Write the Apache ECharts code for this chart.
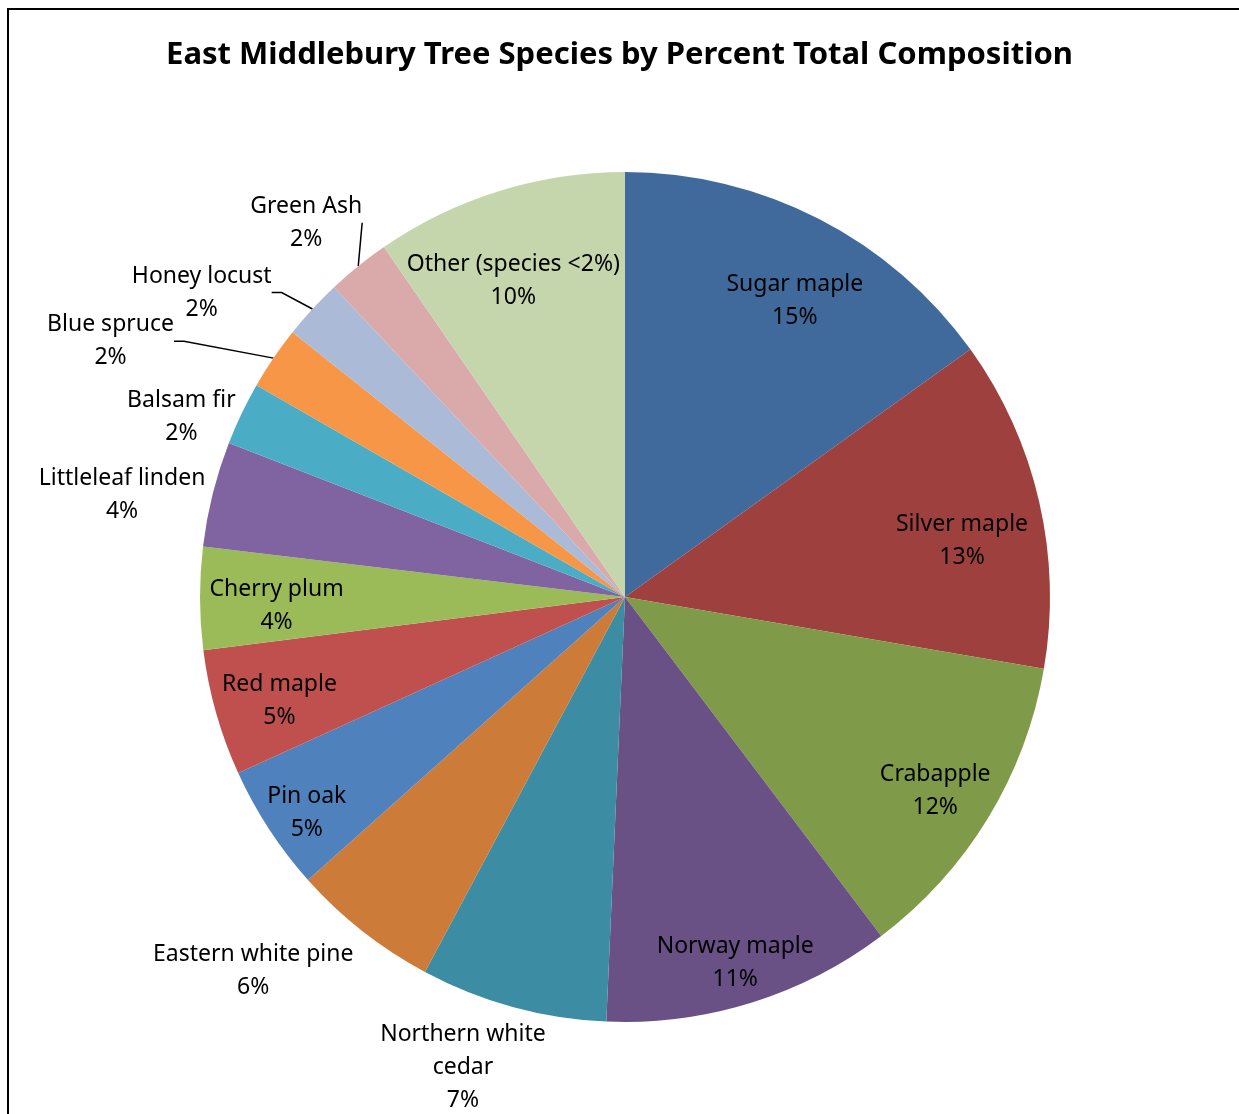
<!DOCTYPE html>
<html><head><meta charset="utf-8">
<script src="https://cdn.jsdelivr.net/npm/echarts@6/dist/echarts.min.js"></script>
<style>html,body{margin:0;padding:0;background:#fff}#c{width:1239px;height:1114px}</style>
</head><body><div id="c"></div>
<script>
const species = ['Sugar maple','Silver maple','Crabapple','Norway maple','Northern white\ncedar','Eastern white pine','Pin oak','Red maple','Cherry plum','Littleleaf linden','Balsam fir','Blue spruce','Honey locust','Green Ash','Other (species <2%)'];
const shares = [15.1,12.6,12.0,11.0,7.1,5.6,4.8,4.8,3.9,4.0,2.4,2.4,2.3,2.4,9.6];
const colors = ['#416A9C','#9E413E','#7F9A48','#695185','#3C8DA3','#CC7B38','#4F81BD','#C0504D','#9BBB59','#8064A2','#4BACC6','#F79646','#AABAD7','#D9AAA9','#C6D6AC'];
const leaderLabels = ['Blue spruce','Honey locust','Green Ash'];
// label placement: [angle in degrees clockwise from top, distance as multiple of pie radius]
const labelPlacement = {
  'Sugar maple':[29.6,0.809],
  'Silver maple':[80.1,0.805],
  'Crabapple':[121.6,0.857],
  'Norway maple':[163.1,0.892],
  'Pin oak':[236.2,0.901],
  'Red maple':[253.7,0.847],
  'Cherry plum':[269.0,0.820],
  'Other (species <2%)':[340.7,0.795],
  'Green Ash':[319.8,1.162],
  'Honey locust':[306,1.231],
  'Blue spruce':[296.7,1.355],
  'Balsam fir':[292.4,1.129],
  'Littleleaf linden':[281.8,1.209],
  'Eastern white pine':[225.1,1.235],
  'Northern white\ncedar':[199.1,1.165]
};

const FONT = 'Noto Sans';
const CX = 625, CY = 597, R = 425;
const txt = {fontFamily:FONT, fontSize:23, color:'#000', lineHeight:33, align:'center'};
const fmt = p => {
  const lines = p.name.split('\n').concat([Math.round(p.percent) + '%']);
  return lines.map(l => '{t|' + l + '}').join('\n');
};

const mainData = species.map((n,i)=>({
  name:n, value:shares[i],
  itemStyle:{color:colors[i]},
  labelLine:{show: leaderLabels.includes(n)}
}));

const chart = echarts.init(document.getElementById('c'), null, {renderer:'canvas'});
chart.setOption({
  animation:false,
  backgroundColor:'#fff',
  title:{text:'East Middlebury Tree Species by Percent Total Composition', left:'center', top:35,
    textStyle:{fontFamily:FONT, fontWeight:'bold', fontSize:31, color:'#000'}},
  graphic:[{type:'rect', shape:{x:8,y:9,width:1400,height:1400}, style:{fill:'none', stroke:'#000', lineWidth:2}, silent:true}],
  series:[
    {type:'pie', center:[CX,CY], radius:[0,R], startAngle:90, clockwise:true, silent:true,
     avoidLabelOverlap:false,
     data:mainData,
     itemStyle:{borderWidth:0},
     label:{position:'outside', formatter:fmt, rich:{t:txt}, padding:[6,0,0,0]},
     labelLine:{length:12, length2:10, lineStyle:{color:'#000', width:1.5}},
     labelLayout: function(params){
       const p = labelPlacement[species[params.dataIndex]];
       if (!p) return {};
       const a = p[0]*Math.PI/180, r = p[1]*R;
       return {x: CX + r*Math.sin(a), y: CY - r*Math.cos(a), align:'center', verticalAlign:'middle'};
     }
    }
  ]
});
</script></body></html>
